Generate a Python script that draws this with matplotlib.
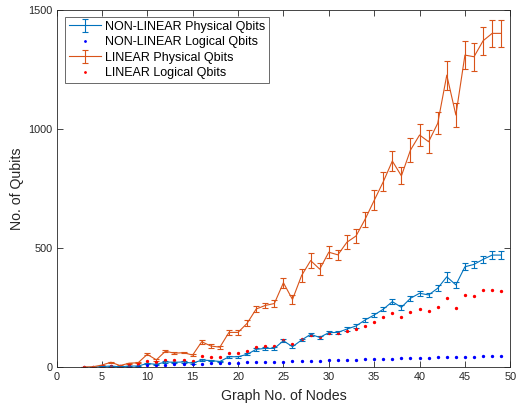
import matplotlib
matplotlib.use("Agg")
import matplotlib.pyplot as plt
from matplotlib.lines import Line2D

plt.rcParams['font.family'] = ['Liberation Sans', 'DejaVu Sans']

nodes = [3, 4, 5, 6, 7, 8, 9, 10, 11, 12, 13, 14, 15, 16, 17, 18, 19, 20, 21, 22,
         23, 24, 25, 26, 27, 28, 29, 30, 31, 32, 33, 34, 35, 36, 37, 38, 39, 40, 41,
         42, 43, 44, 45, 46, 47, 48, 49]

nonlin_phys = [0, 1, 4, 6, 3, 6, 6, 17, 13, 23, 22, 23, 18, 31, 29, 25, 45, 45, 55, 76,
               80, 80, 112, 87, 115, 139, 126, 146, 147, 161, 174, 199, 220, 244, 276,
               252, 290, 311, 304, 332, 380, 346, 422, 432, 453, 471, 471]
nonlin_phys_err = [1, 1, 1, 2, 1, 2, 2, 3, 2, 3, 3, 3, 3, 3, 3, 3, 4, 4, 4, 5,
                   5, 5, 7, 6, 6, 7, 6, 7, 7, 7, 7, 8, 8, 9, 12, 10, 10, 10, 10,
                   12, 21, 14, 15, 15, 15, 17, 17]
nonlin_logic = [3, 4, 5, 6, 7, 8, 9, 10, 11, 12, 13, 14, 15, 16, 17, 18, 19, 20, 21, 22,
                23, 24, 25, 26, 27, 28, 29, 30, 31, 32, 33, 34, 35, 36, 37, 38, 39, 40,
                41, 42, 43, 44, 45, 46, 47, 48, 49]

lin_phys = [2, 3, 10, 22, 8, 18, 20, 55, 32, 68, 60, 62, 52, 108, 90, 85, 147, 147, 185,
            245, 260, 268, 355, 285, 385, 448, 412, 483, 472, 525, 551, 621, 700, 778,
            865, 803, 911, 974, 946, 1023, 1225, 1058, 1309, 1302, 1369, 1400, 1400]
lin_phys_err = [1, 1, 2, 3, 1, 2, 3, 4, 3, 4, 3, 3, 3, 8, 7, 6, 10, 10, 12, 12,
                12, 15, 22, 18, 26, 31, 24, 24, 22, 29, 29, 31, 42, 40, 43, 36, 50,
                47, 48, 46, 61, 52, 60, 58, 58, 56, 58]
lin_logic = [1, 2, 6, 8, 8, 12, 14, 27, 22, 32, 31, 31, 27, 48, 45, 43, 59, 62, 70, 85,
             90, 90, 116, 98, 118, 137, 129, 146, 143, 153, 160, 175, 189, 210, 227,
             210, 231, 246, 238, 255, 292, 251, 304, 298, 325, 325, 322]

labels = ["NON-LINEAR Physical Qbits", "NON-LINEAR Logical Qbits",
          "LINEAR Physical Qbits", "LINEAR Logical Qbits"]

c_blue = '#0072BD'
c_orange = '#D95319'

fig = plt.figure(figsize=(5.16, 4.08), dpi=100)
ax = fig.add_axes([0.1095, 0.0993, 0.8795, 0.8774])

eb1 = ax.errorbar(nodes, nonlin_phys, yerr=nonlin_phys_err, color=c_blue, lw=0.8,
                  elinewidth=0.8, capsize=2.5, capthick=0.8)
ax.plot(nodes, nonlin_logic, linestyle='none', marker='.', markersize=2.8,
        color='#0000FF')
eb2 = ax.errorbar(nodes, lin_phys, yerr=lin_phys_err, color=c_orange, lw=0.8,
                  elinewidth=0.8, capsize=2.5, capthick=0.8)
ax.plot(nodes, lin_logic, linestyle='none', marker='.', markersize=2.8,
        color='#FF0000')

ax.set_xlim(0, 50)
ax.set_ylim(0, 1500)
ax.set_xticks(range(0, 51, 5))
ax.set_yticks([0, 500, 1000, 1500])
ax.tick_params(direction='in', top=True, right=True, length=4, width=0.6,
               labelsize=7.8, colors='#262626', pad=3)
for s in ax.spines.values():
    s.set_linewidth(0.6)
    s.set_color('#262626')

ax.set_xlabel("Graph No. of Nodes", fontsize=10.2, color='#262626', labelpad=5)
ax.set_ylabel("No. of Qubits", fontsize=10.2, color='#262626', labelpad=3)

h_bdot = Line2D([], [], linestyle='none', marker='.', markersize=2, color='#0000FF')
h_rdot = Line2D([], [], linestyle='none', marker='.', markersize=2, color='#FF0000')
leg = ax.legend([eb1, h_bdot, eb2, h_rdot], labels,
                loc='upper left', bbox_to_anchor=(0.0187, 0.979), borderaxespad=0,
                fontsize=9, frameon=True, fancybox=False, edgecolor='#262626',
                handlelength=2.6, handletextpad=0.3, labelspacing=0.28,
                borderpad=0.3)
leg.get_frame().set_linewidth(0.6)

fig.savefig("out.png", dpi=100)
